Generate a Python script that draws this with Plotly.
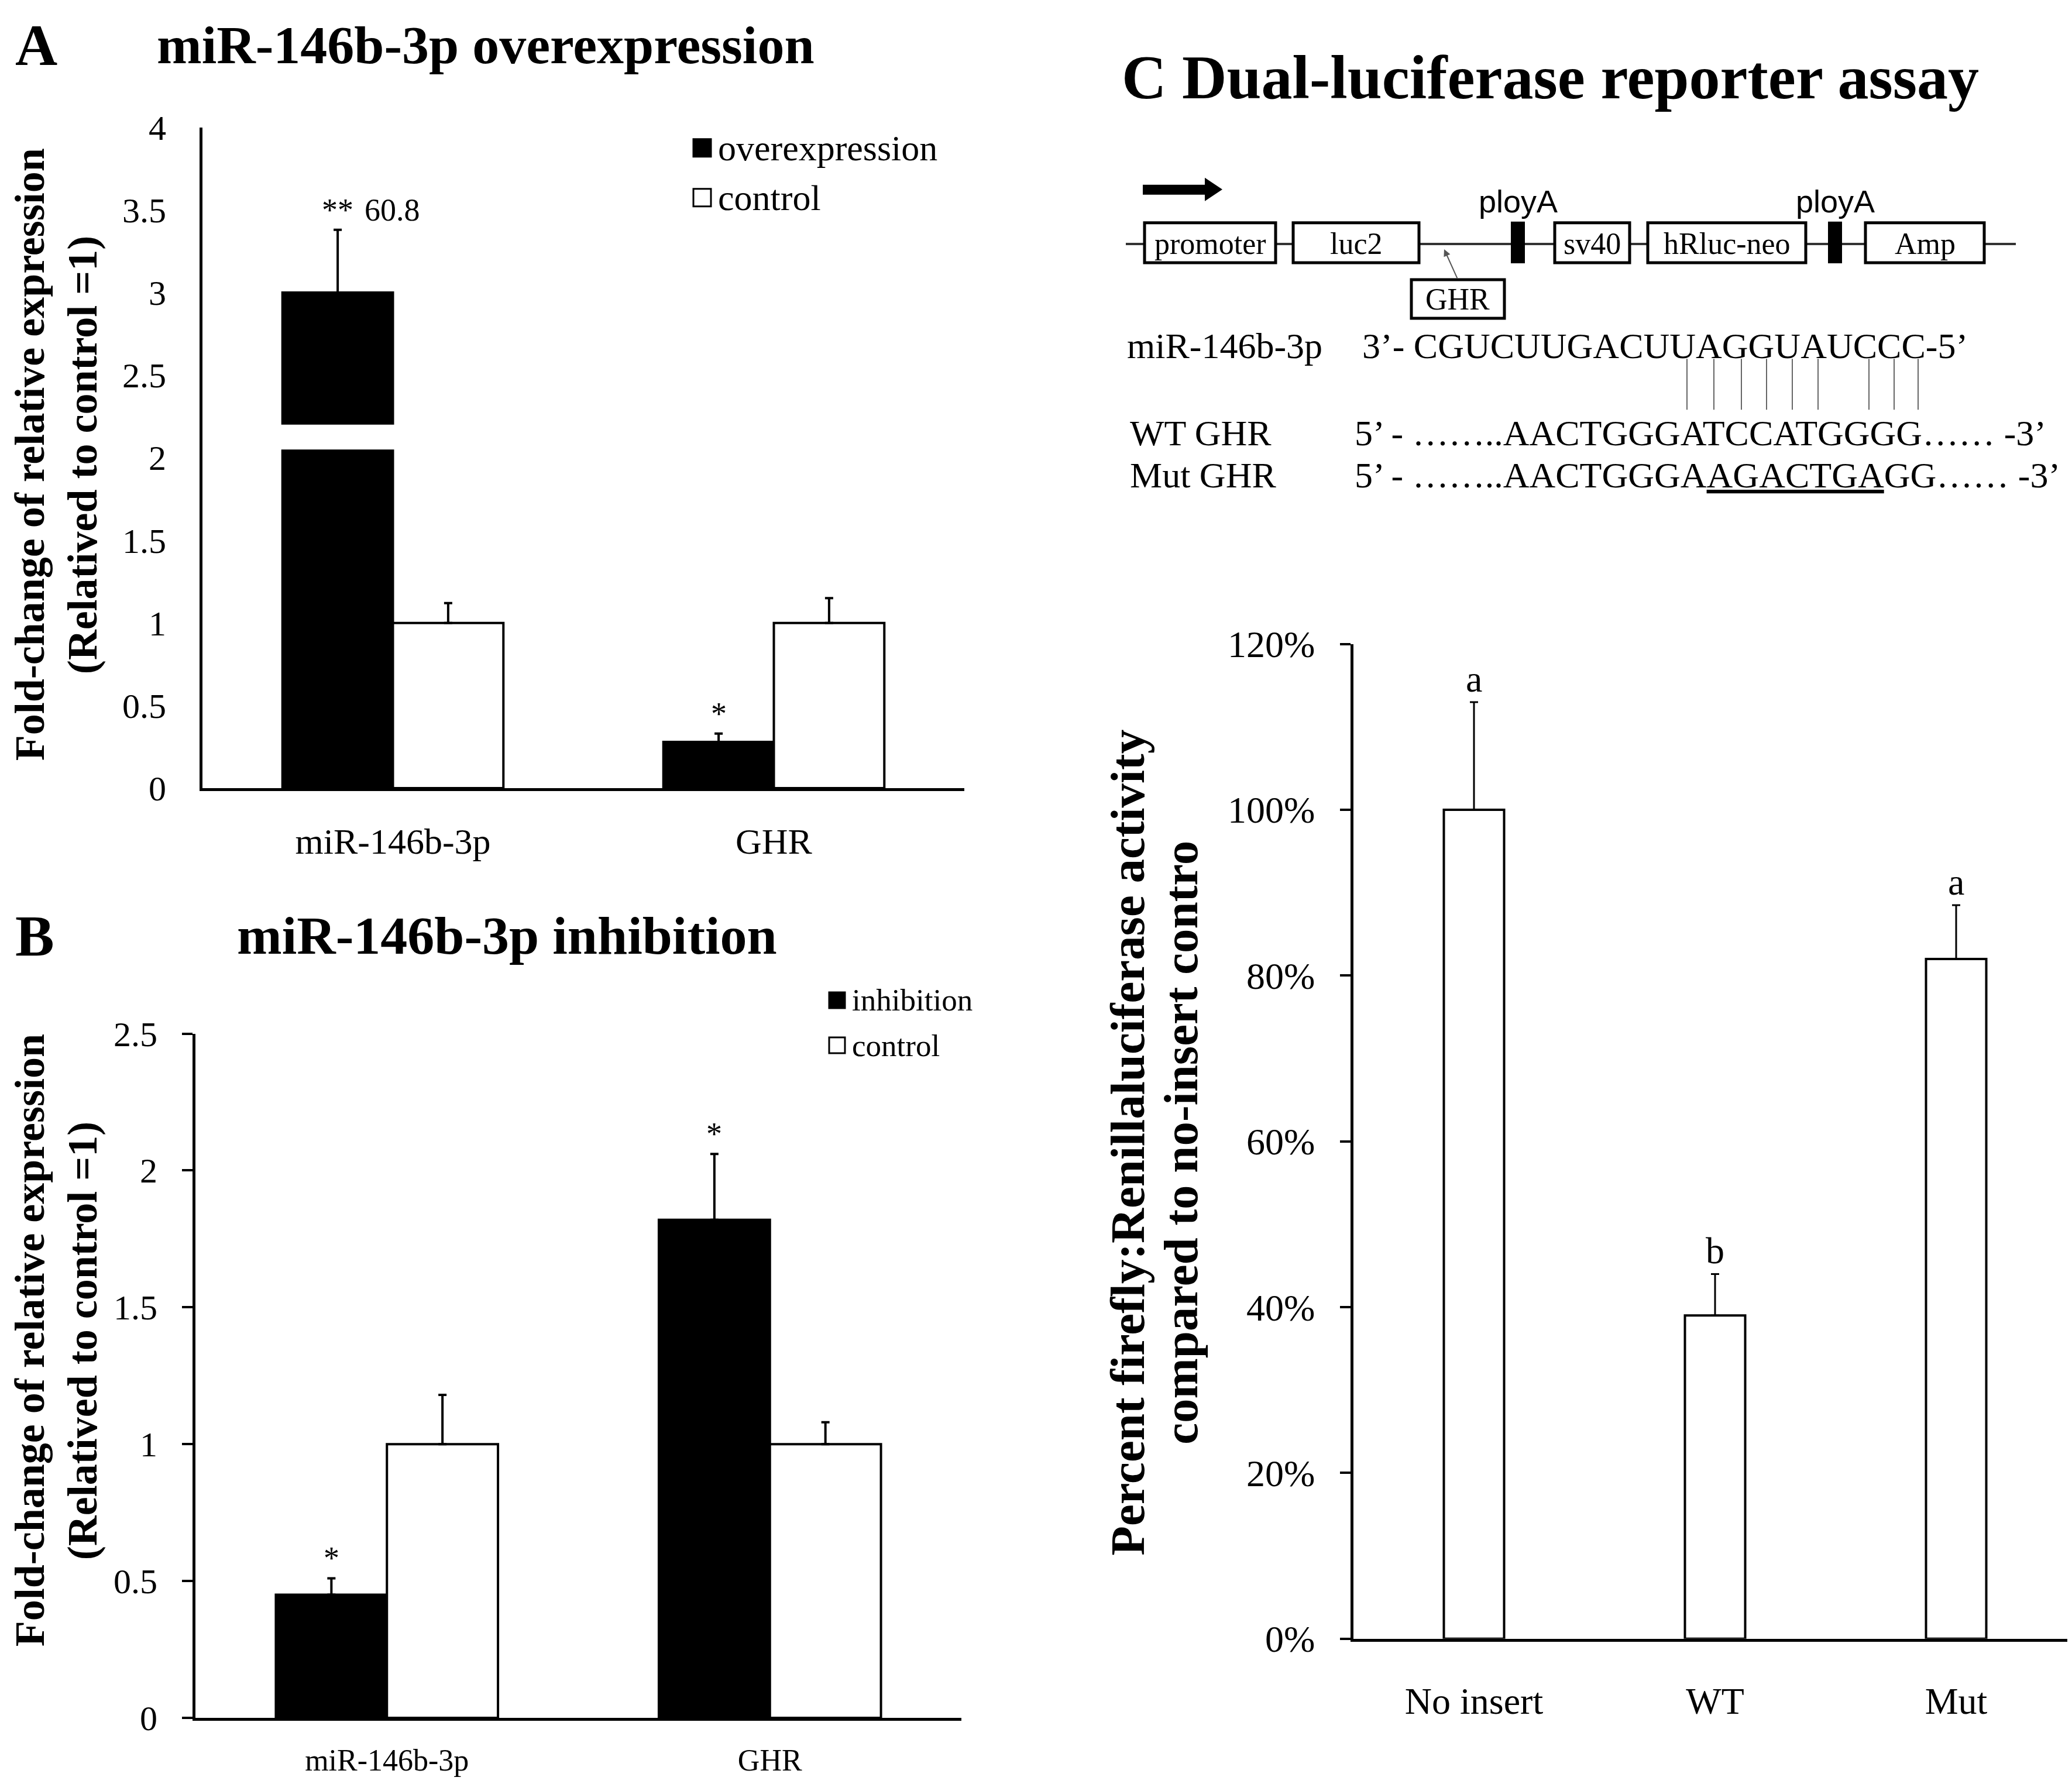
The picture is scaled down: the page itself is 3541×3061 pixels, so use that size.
import plotly.graph_objects as go

W, H = 3541, 3061
SERIF = "Liberation Serif, Times New Roman, serif"
SANS = "Liberation Sans, Arial, sans-serif"

# ---- Panel A: miR-146b-3p overexpression ----
a_genes = ["miR-146b-3p", "GHR"]
a_overexp = [3.0, 0.28]          # first bar is drawn cut at 3 (true value 60.8)
a_overexp_err = [0.38, 0.05]
a_control = [1.0, 1.0]
a_control_err = [0.12, 0.15]
a_break = [2.05, 2.2]            # gap drawn in the cut bar
a_sig = ["**", "*"]
a_true_value = "60.8"

# ---- Panel B: miR-146b-3p inhibition ----
b_genes = ["miR-146b-3p", "GHR"]
b_inhib = [0.45, 1.82]
b_inhib_err = [0.06, 0.24]
b_control = [1.0, 1.0]
b_control_err = [0.18, 0.08]
b_sig = ["*", "*"]

# ---- Panel C: dual-luciferase reporter assay ----
c_groups = ["No insert", "WT", "Mut"]
c_ratio = [1.00, 0.39, 0.82]
c_err = [0.13, 0.05, 0.065]
c_letters = ["a", "b", "a"]

mir_seq = "3’- CGUCUUGACUUAGGUAUCCC-5’"
wt_seq = "5’ - ……..AACTGGGATCCATGGGG…… -3’"
mut_seq = "5’ - ……..AACTGGGA<u>AGACTGA</u>GG…… -3’"


# layout is worked out in pixels of the target picture; these map it to paper
# (small correction for the page offset seen in the rendered screenshot)
def px(x):
    return (x - 7) / W


def py(y):
    return 1 - (1.025 * y - 46.7) / H


def err(arr, thick=4, width=7):
    return dict(type="data", array=arr, arrayminus=[0] * len(arr), symmetric=False,
                color="black", thickness=thick, width=width)


BW = 0.29   # bar width, panels A/B
CW = 0.25   # bar width, panel C
fig = go.Figure()

# Panel A bars
fig.add_trace(go.Bar(x=a_genes, y=a_overexp, xaxis="x", yaxis="y", width=BW, offset=-BW,
                     marker=dict(color="black", line=dict(color="black", width=4)),
                     error_y=err(a_overexp_err)))
fig.add_trace(go.Bar(x=[a_genes[0]], y=[a_break[1] - a_break[0]], base=[a_break[0]],
                     xaxis="x", yaxis="y", width=BW + 0.03, offset=-BW - 0.015,
                     marker=dict(color="white", line=dict(width=0))))
fig.add_trace(go.Bar(x=a_genes, y=a_control, xaxis="x", yaxis="y", width=BW, offset=0,
                     marker=dict(color="white", line=dict(color="black", width=4)),
                     error_y=err(a_control_err)))

# Panel B bars
fig.add_trace(go.Bar(x=b_genes, y=b_inhib, xaxis="x2", yaxis="y2", width=BW, offset=-BW,
                     marker=dict(color="black", line=dict(color="black", width=4)),
                     error_y=err(b_inhib_err)))
fig.add_trace(go.Bar(x=b_genes, y=b_control, xaxis="x2", yaxis="y2", width=BW, offset=0,
                     marker=dict(color="white", line=dict(color="black", width=4)),
                     error_y=err(b_control_err)))

# Panel C bars
fig.add_trace(go.Bar(x=c_groups, y=c_ratio, xaxis="x3", yaxis="y3", width=CW,
                     marker=dict(color="white", line=dict(color="black", width=4)),
                     error_y=err(c_err, thick=3, width=7)))

xcommon = dict(type="category", showline=True, linecolor="black", linewidth=5,
               ticks="", showgrid=False, zeroline=False, fixedrange=True)
ycommon = dict(showline=True, linecolor="black", linewidth=5, showgrid=False,
               zeroline=False, fixedrange=True)

fig.update_layout(
    width=W, height=H, margin=dict(l=0, r=0, t=0, b=0),
    paper_bgcolor="white", plot_bgcolor="white", showlegend=False,
    barmode="overlay", font=dict(family=SERIF, color="black"),
    xaxis=dict(xcommon, domain=[px(345), px(1647)], anchor="y", range=[-0.5, 1.5],
               categoryarray=a_genes, tickfont=dict(size=62), ticklabelstandoff=33),
    yaxis=dict(ycommon, domain=[py(1348), py(220)], anchor="x", range=[0, 4], dtick=0.5,
               ticks="", tickfont=dict(size=60), ticklabelstandoff=45),
    xaxis2=dict(xcommon, domain=[px(333), px(1642)], anchor="y2", range=[-0.5, 1.5],
                categoryarray=b_genes, tickfont=dict(size=52), ticklabelstandoff=23),
    yaxis2=dict(ycommon, domain=[py(2935), py(1767)], anchor="x2", range=[0, 2.5], dtick=0.5,
                ticks="outside", ticklen=18, tickwidth=4, tickcolor="black",
                tickfont=dict(size=60), ticklabelstandoff=30),
    xaxis3=dict(xcommon, domain=[px(2312), 1.0], anchor="y3", range=[-0.5, 2.5],
                categoryarray=c_groups, tickfont=dict(size=64), ticklabelstandoff=46),
    yaxis3=dict(ycommon, domain=[py(2800), py(1102)], anchor="x3", range=[0, 1.2], dtick=0.2,
                tickformat=".0%", ticks="outside", ticklen=18, tickwidth=4, tickcolor="black",
                tickfont=dict(size=64), ticklabelstandoff=30),
)

ann = []
shapes = []


def text(x, y, s, size, xanchor="center", bold=False, family=SERIF, angle=0):
    ann.append(dict(x=px(x), y=py(y), xref="paper", yref="paper", showarrow=False,
                    text=f"<b>{s}</b>" if bold else s, xanchor=xanchor, yanchor="middle",
                    textangle=angle, font=dict(size=size, family=family, color="black")))


# titles
text(23, 80, "A", 100, xanchor="left", bold=True)
text(829, 80, "miR-146b-3p overexpression", 92, bold=True)
text(23, 1600, "B", 100, xanchor="left", bold=True)
text(865, 1600, "miR-146b-3p inhibition", 92, bold=True)
text(1914, 135, "C Dual-luciferase reporter assay", 106, xanchor="left", bold=True)

# y-axis titles (one annotation per line)
for yc in (779, 2291):
    text(50, yc, "Fold-change of relative expression", 72, bold=True, angle=-90)
    text(140, yc, "(Relatived to control =1)", 72, bold=True, angle=-90)
text(1926, 1953, "Percent firefly:Renillaluciferase activity", 83, bold=True, angle=-90)
text(2017, 1953, "compared to no-insert contro", 83, bold=True, angle=-90)

# significance marks
ann.append(dict(x=0 - BW / 2, y=a_overexp[0] + a_overexp_err[0], xref="x", yref="y",
                text=a_sig[0], showarrow=False, yanchor="bottom", yshift=2, font=dict(size=54)))
ann.append(dict(x=0 - BW / 2, y=a_overexp[0] + a_overexp_err[0], xref="x", yref="y",
                text=a_true_value, showarrow=False, xanchor="left", xshift=44, yanchor="bottom",
                yshift=2, font=dict(size=54)))
ann.append(dict(x=1 - BW / 2, y=a_overexp[1] + a_overexp_err[1], xref="x", yref="y",
                text=a_sig[1], showarrow=False, yanchor="bottom", yshift=2, font=dict(size=54)))
for i, s in enumerate(b_sig):
    ann.append(dict(x=i - BW / 2, y=b_inhib[i] + b_inhib_err[i], xref="x2", yref="y2",
                    text=s, showarrow=False, yanchor="bottom", yshift=2, font=dict(size=54)))
for i, s in enumerate(c_letters):
    ann.append(dict(x=i, y=c_ratio[i] + c_err[i], xref="x3", yref="y3",
                    text=s, showarrow=False, yanchor="bottom", yshift=2, font=dict(size=64)))


# legends
def legend_item(x, y, label, fill, size, box=30):
    shapes.append(dict(type="rect", xref="paper", yref="paper",
                       x0=px(x), x1=px(x + box), y0=py(y + box / 2), y1=py(y - box / 2),
                       fillcolor=fill, line=dict(color="black", width=3)))
    text(x + box + 10, y, label, size, xanchor="left")


legend_item(1184, 255, "overexpression", "black", 62)
legend_item(1184, 340, "control", "white", 62)
legend_item(1416, 1710, "inhibition", "black", 53, box=27)
legend_item(1416, 1787, "control", "white", 53, box=27)

# construct diagram (panel C, top)
shapes.append(dict(type="line", xref="paper", yref="paper", x0=px(1923), x1=px(3444),
                   y0=py(419), y1=py(419), line=dict(color="#333333", width=4)))
shapes.append(dict(type="rect", xref="paper", yref="paper", x0=px(1952), x1=px(2062),
                   y0=py(335), y1=py(318), fillcolor="black", line=dict(width=0)))
shapes.append(dict(type="path", xref="paper", yref="paper",
                   path=f"M {px(2058)},{py(306)} L {px(2088)},{py(326)} L {px(2058)},{py(346)} Z",
                   fillcolor="black", line=dict(width=0)))
boxes = [(1955, 2179, "promoter"), (2209, 2424, "luc2"), (2656, 2784, "sv40"),
         (2815, 3085, "hRluc-neo"), (3187, 3390, "Amp")]
for x0, x1, lab in boxes:
    shapes.append(dict(type="rect", xref="paper", yref="paper", x0=px(x0), x1=px(x1),
                       y0=py(451), y1=py(383), fillcolor="white", line=dict(color="black", width=5)))
    text((x0 + x1) / 2, 419, lab, 52)
for x0 in (2581, 3123):
    shapes.append(dict(type="rect", xref="paper", yref="paper", x0=px(x0), x1=px(x0 + 24),
                       y0=py(452), y1=py(381), fillcolor="black", line=dict(width=0)))
    text(x0 + 12, 346, "ployA", 54, family=SANS)
shapes.append(dict(type="rect", xref="paper", yref="paper", x0=px(2411), x1=px(2570),
                   y0=py(546), y1=py(480), fillcolor="white", line=dict(color="black", width=5)))
text(2490, 513, "GHR", 52)
ann.append(dict(x=px(2467), y=py(428), xref="paper", yref="paper", ax=23, ay=51, text="",
                showarrow=True, arrowhead=2, arrowsize=1.2, arrowwidth=2, arrowcolor="#555555"))

# sequences
text(1923, 593, "miR-146b-3p", 62, xanchor="left")
text(2325, 593, mir_seq, 62, xanchor="left")
for lx in [2882, 2928, 2975, 3018, 3062, 3106, 3193, 3236, 3277]:
    shapes.append(dict(type="line", xref="paper", yref="paper", x0=px(lx), x1=px(lx),
                       y0=py(615), y1=py(702), line=dict(color="#666666", width=2)))
text(1928, 742, "WT GHR", 62, xanchor="left")
text(2312, 742, wt_seq, 62, xanchor="left")
text(1928, 814, "Mut GHR", 62, xanchor="left")
text(2312, 814, mut_seq, 62, xanchor="left")

fig.update_layout(annotations=ann, shapes=shapes)
fig.write_html("out.html")
